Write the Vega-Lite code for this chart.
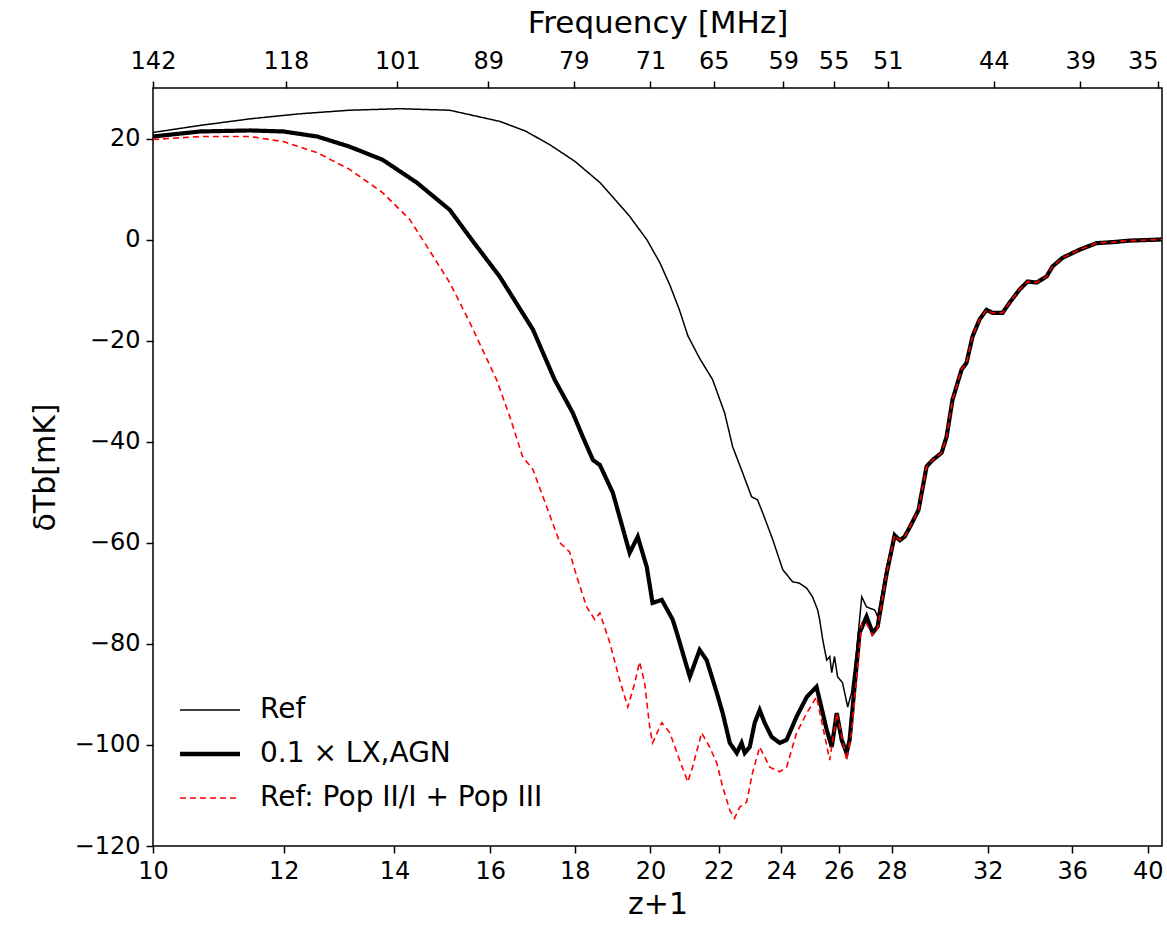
{
  "$schema": "https://vega.github.io/schema/vega-lite/v6.json",
  "width": 1009,
  "height": 758,
  "autosize": "none",
  "padding": {"left": 153, "top": 88, "right": 5, "bottom": 84},
  "background": "white",
  "config": {
    "font": "DejaVu Sans",
    "view": {"stroke": "black", "strokeWidth": 1.5},
    "axis": {"grid": false, "domain": false, "ticks": true, "tickColor": "black", "tickWidth": 1.5, "tickSize": 7, "labelColor": "black", "labelFontSize": 24, "labelFont": "DejaVu Sans", "labelFlush": false, "labelOverlap": false, "titleColor": "black", "titleFontSize": 30, "titleFontWeight": "normal", "titleFont": "DejaVu Sans"},
    "legend": {"labelFont": "DejaVu Sans", "labelColor": "black"}
  },
  "datasets": {
    "curves": [
      {"s": "Ref", "z1": 10.00, "dTb": 21.2}, {"s": "Ref", "z1": 10.68, "dTb": 22.6}, {"s": "Ref", "z1": 11.45, "dTb": 23.9}, {"s": "Ref", "z1": 12.27, "dTb": 24.9}, {"s": "Ref", "z1": 13.15, "dTb": 25.6}, {"s": "Ref", "z1": 14.10, "dTb": 25.9}, {"s": "Ref", "z1": 15.12, "dTb": 25.6}, {"s": "Ref", "z1": 16.21, "dTb": 23.4}, {"s": "Ref", "z1": 16.80, "dTb": 21.5}, {"s": "Ref", "z1": 17.38, "dTb": 18.8}, {"s": "Ref", "z1": 18.00, "dTb": 15.5}, {"s": "Ref", "z1": 18.64, "dTb": 11.3}, {"s": "Ref", "z1": 19.04, "dTb": 7.9}, {"s": "Ref", "z1": 19.43, "dTb": 4.6}, {"s": "Ref", "z1": 19.90, "dTb": 0.0},
      {"s": "Ref", "z1": 20.26, "dTb": -4.5}, {"s": "Ref", "z1": 20.55, "dTb": -9.0}, {"s": "Ref", "z1": 20.83, "dTb": -14.0}, {"s": "Ref", "z1": 21.07, "dTb": -19.0}, {"s": "Ref", "z1": 21.42, "dTb": -23.5}, {"s": "Ref", "z1": 21.81, "dTb": -27.7}, {"s": "Ref", "z1": 22.18, "dTb": -34.3}, {"s": "Ref", "z1": 22.43, "dTb": -41.0}, {"s": "Ref", "z1": 22.74, "dTb": -46.1}, {"s": "Ref", "z1": 23.03, "dTb": -50.9}, {"s": "Ref", "z1": 23.22, "dTb": -51.5}, {"s": "Ref", "z1": 23.39, "dTb": -54.1}, {"s": "Ref", "z1": 23.72, "dTb": -59.4}, {"s": "Ref", "z1": 24.05, "dTb": -65.3}, {"s": "Ref", "z1": 24.38, "dTb": -67.7}, {"s": "Ref", "z1": 24.62, "dTb": -68.0}, {"s": "Ref", "z1": 24.87, "dTb": -69.0}, {"s": "Ref", "z1": 25.07, "dTb": -70.7}, {"s": "Ref", "z1": 25.25, "dTb": -73.3}, {"s": "Ref", "z1": 25.32, "dTb": -75.2}, {"s": "Ref", "z1": 25.43, "dTb": -79.2}, {"s": "Ref", "z1": 25.57, "dTb": -83.2}, {"s": "Ref", "z1": 25.68, "dTb": -82.5}, {"s": "Ref", "z1": 25.75, "dTb": -85.7}, {"s": "Ref", "z1": 25.85, "dTb": -82.5}, {"s": "Ref", "z1": 25.96, "dTb": -86.5}, {"s": "Ref", "z1": 26.14, "dTb": -87.7}, {"s": "Ref", "z1": 26.33, "dTb": -92.5}, {"s": "Ref", "z1": 26.47, "dTb": -89.7}, {"s": "Ref", "z1": 26.66, "dTb": -81.2}, {"s": "Ref", "z1": 26.85, "dTb": -70.7}, {"s": "Ref", "z1": 27.03, "dTb": -72.7}, {"s": "Ref", "z1": 27.34, "dTb": -73.3}, {"s": "Ref", "z1": 27.45, "dTb": -74.6}, {"s": "Ref", "z1": 27.80, "dTb": -64.7}, {"s": "Ref", "z1": 28.11, "dTb": -58.5},
      {"s": "Ref", "z1": 28.31, "dTb": -59.5}, {"s": "Ref", "z1": 28.50, "dTb": -58.8}, {"s": "Ref", "z1": 28.70, "dTb": -57.0}, {"s": "Ref", "z1": 29.06, "dTb": -53.5}, {"s": "Ref", "z1": 29.39, "dTb": -44.9}, {"s": "Ref", "z1": 29.64, "dTb": -43.6}, {"s": "Ref", "z1": 30.01, "dTb": -42.2}, {"s": "Ref", "z1": 30.22, "dTb": -39.0}, {"s": "Ref", "z1": 30.47, "dTb": -31.7}, {"s": "Ref", "z1": 30.86, "dTb": -25.7}, {"s": "Ref", "z1": 31.07, "dTb": -24.4}, {"s": "Ref", "z1": 31.33, "dTb": -19.2}, {"s": "Ref", "z1": 31.64, "dTb": -15.8}, {"s": "Ref", "z1": 31.95, "dTb": -13.9}, {"s": "Ref", "z1": 32.22, "dTb": -14.5}, {"s": "Ref", "z1": 32.67, "dTb": -14.5}, {"s": "Ref", "z1": 32.99, "dTb": -12.5}, {"s": "Ref", "z1": 33.45, "dTb": -9.9}, {"s": "Ref", "z1": 33.83, "dTb": -8.3}, {"s": "Ref", "z1": 34.26, "dTb": -8.5}, {"s": "Ref", "z1": 34.74, "dTb": -7.3}, {"s": "Ref", "z1": 35.03, "dTb": -5.3}, {"s": "Ref", "z1": 35.52, "dTb": -3.6}, {"s": "Ref", "z1": 36.37, "dTb": -2.0}, {"s": "Ref", "z1": 37.24, "dTb": -0.7}, {"s": "Ref", "z1": 38.08, "dTb": -0.5}, {"s": "Ref", "z1": 38.99, "dTb": -0.2}, {"s": "Ref", "z1": 40.66, "dTb": 0.0}, {"s": "Ref", "z1": 40.8, "dTb": 0.1},

      {"s": "0.1 × LX,AGN", "z1": 10.00, "dTb": 20.4}, {"s": "0.1 × LX,AGN", "z1": 10.68, "dTb": 21.4}, {"s": "0.1 × LX,AGN", "z1": 11.45, "dTb": 21.6}, {"s": "0.1 × LX,AGN", "z1": 11.99, "dTb": 21.4}, {"s": "0.1 × LX,AGN", "z1": 12.57, "dTb": 20.4}, {"s": "0.1 × LX,AGN", "z1": 13.15, "dTb": 18.4}, {"s": "0.1 × LX,AGN", "z1": 13.77, "dTb": 15.8}, {"s": "0.1 × LX,AGN", "z1": 14.44, "dTb": 11.3}, {"s": "0.1 × LX,AGN", "z1": 15.12, "dTb": 5.9}, {"s": "0.1 × LX,AGN", "z1": 15.59, "dTb": 0.0}, {"s": "0.1 × LX,AGN", "z1": 16.21, "dTb": -7.3}, {"s": "0.1 × LX,AGN", "z1": 16.98, "dTb": -17.8}, {"s": "0.1 × LX,AGN", "z1": 17.50, "dTb": -27.7}, {"s": "0.1 × LX,AGN", "z1": 17.95, "dTb": -34.3}, {"s": "0.1 × LX,AGN", "z1": 18.20, "dTb": -39.0}, {"s": "0.1 × LX,AGN", "z1": 18.46, "dTb": -43.6}, {"s": "0.1 × LX,AGN", "z1": 18.64, "dTb": -44.6}, {"s": "0.1 × LX,AGN", "z1": 18.98, "dTb": -50.1}, {"s": "0.1 × LX,AGN", "z1": 19.43, "dTb": -62.0}, {"s": "0.1 × LX,AGN", "z1": 19.65, "dTb": -58.8}, {"s": "0.1 × LX,AGN", "z1": 19.90, "dTb": -64.8}, {"s": "0.1 × LX,AGN", "z1": 20.06, "dTb": -71.9}, {"s": "0.1 × LX,AGN", "z1": 20.32, "dTb": -71.3}, {"s": "0.1 × LX,AGN", "z1": 20.63, "dTb": -75.2}, {"s": "0.1 × LX,AGN", "z1": 20.75, "dTb": -77.8}, {"s": "0.1 × LX,AGN", "z1": 21.04, "dTb": -84.5}, {"s": "0.1 × LX,AGN", "z1": 21.13, "dTb": -86.5}, {"s": "0.1 × LX,AGN", "z1": 21.42, "dTb": -81.2}, {"s": "0.1 × LX,AGN", "z1": 21.63, "dTb": -83.2}, {"s": "0.1 × LX,AGN", "z1": 21.94, "dTb": -89.7}, {"s": "0.1 × LX,AGN", "z1": 22.12, "dTb": -93.7}, {"s": "0.1 × LX,AGN", "z1": 22.34, "dTb": -99.6}, {"s": "0.1 × LX,AGN", "z1": 22.56, "dTb": -101.6}, {"s": "0.1 × LX,AGN", "z1": 22.71, "dTb": -99.6}, {"s": "0.1 × LX,AGN", "z1": 22.81, "dTb": -101.6}, {"s": "0.1 × LX,AGN", "z1": 22.97, "dTb": -100.4}, {"s": "0.1 × LX,AGN", "z1": 23.13, "dTb": -95.6}, {"s": "0.1 × LX,AGN", "z1": 23.29, "dTb": -93.1}, {"s": "0.1 × LX,AGN", "z1": 23.45, "dTb": -95.6}, {"s": "0.1 × LX,AGN", "z1": 23.68, "dTb": -98.4}, {"s": "0.1 × LX,AGN", "z1": 23.95, "dTb": -99.6}, {"s": "0.1 × LX,AGN", "z1": 24.18, "dTb": -99.0}, {"s": "0.1 × LX,AGN", "z1": 24.52, "dTb": -94.4}, {"s": "0.1 × LX,AGN", "z1": 24.87, "dTb": -90.5}, {"s": "0.1 × LX,AGN", "z1": 25.21, "dTb": -88.5}, {"s": "0.1 × LX,AGN", "z1": 25.32, "dTb": -91.1}, {"s": "0.1 × LX,AGN", "z1": 25.57, "dTb": -97.0}, {"s": "0.1 × LX,AGN", "z1": 25.75, "dTb": -100.4}, {"s": "0.1 × LX,AGN", "z1": 25.93, "dTb": -93.7}, {"s": "0.1 × LX,AGN", "z1": 26.11, "dTb": -99.0}, {"s": "0.1 × LX,AGN", "z1": 26.29, "dTb": -101.6}, {"s": "0.1 × LX,AGN", "z1": 26.40, "dTb": -99.0}, {"s": "0.1 × LX,AGN", "z1": 26.77, "dTb": -77.8}, {"s": "0.1 × LX,AGN", "z1": 27.03, "dTb": -74.6}, {"s": "0.1 × LX,AGN", "z1": 27.26, "dTb": -77.8}, {"s": "0.1 × LX,AGN", "z1": 27.45, "dTb": -76.6}, {"s": "0.1 × LX,AGN", "z1": 27.80, "dTb": -66.0}, {"s": "0.1 × LX,AGN", "z1": 28.11, "dTb": -58.5},
      {"s": "0.1 × LX,AGN", "z1": 28.31, "dTb": -59.5}, {"s": "0.1 × LX,AGN", "z1": 28.50, "dTb": -58.8}, {"s": "0.1 × LX,AGN", "z1": 28.70, "dTb": -57.0}, {"s": "0.1 × LX,AGN", "z1": 29.06, "dTb": -53.5}, {"s": "0.1 × LX,AGN", "z1": 29.39, "dTb": -44.9}, {"s": "0.1 × LX,AGN", "z1": 29.64, "dTb": -43.6}, {"s": "0.1 × LX,AGN", "z1": 30.01, "dTb": -42.2}, {"s": "0.1 × LX,AGN", "z1": 30.22, "dTb": -39.0}, {"s": "0.1 × LX,AGN", "z1": 30.47, "dTb": -31.7}, {"s": "0.1 × LX,AGN", "z1": 30.86, "dTb": -25.7}, {"s": "0.1 × LX,AGN", "z1": 31.07, "dTb": -24.4}, {"s": "0.1 × LX,AGN", "z1": 31.33, "dTb": -19.2}, {"s": "0.1 × LX,AGN", "z1": 31.64, "dTb": -15.8}, {"s": "0.1 × LX,AGN", "z1": 31.95, "dTb": -13.9}, {"s": "0.1 × LX,AGN", "z1": 32.22, "dTb": -14.5}, {"s": "0.1 × LX,AGN", "z1": 32.67, "dTb": -14.5}, {"s": "0.1 × LX,AGN", "z1": 32.99, "dTb": -12.5}, {"s": "0.1 × LX,AGN", "z1": 33.45, "dTb": -9.9}, {"s": "0.1 × LX,AGN", "z1": 33.83, "dTb": -8.3}, {"s": "0.1 × LX,AGN", "z1": 34.26, "dTb": -8.5}, {"s": "0.1 × LX,AGN", "z1": 34.74, "dTb": -7.3}, {"s": "0.1 × LX,AGN", "z1": 35.03, "dTb": -5.3}, {"s": "0.1 × LX,AGN", "z1": 35.52, "dTb": -3.6}, {"s": "0.1 × LX,AGN", "z1": 36.37, "dTb": -2.0}, {"s": "0.1 × LX,AGN", "z1": 37.24, "dTb": -0.7}, {"s": "0.1 × LX,AGN", "z1": 38.08, "dTb": -0.5}, {"s": "0.1 × LX,AGN", "z1": 38.99, "dTb": -0.2}, {"s": "0.1 × LX,AGN", "z1": 40.66, "dTb": 0.0}, {"s": "0.1 × LX,AGN", "z1": 40.8, "dTb": 0.1},

      {"s": "Ref: Pop II/I + Pop III", "z1": 10.00, "dTb": 19.8}, {"s": "Ref: Pop II/I + Pop III", "z1": 10.68, "dTb": 20.4}, {"s": "Ref: Pop II/I + Pop III", "z1": 11.45, "dTb": 20.4}, {"s": "Ref: Pop II/I + Pop III", "z1": 11.99, "dTb": 19.4}, {"s": "Ref: Pop II/I + Pop III", "z1": 12.57, "dTb": 17.2}, {"s": "Ref: Pop II/I + Pop III", "z1": 13.15, "dTb": 13.9}, {"s": "Ref: Pop II/I + Pop III", "z1": 13.77, "dTb": 9.3}, {"s": "Ref: Pop II/I + Pop III", "z1": 14.30, "dTb": 4.0}, {"s": "Ref: Pop II/I + Pop III", "z1": 14.56, "dTb": 0.0}, {"s": "Ref: Pop II/I + Pop III", "z1": 15.12, "dTb": -8.5}, {"s": "Ref: Pop II/I + Pop III", "z1": 15.55, "dTb": -16.4}, {"s": "Ref: Pop II/I + Pop III", "z1": 16.14, "dTb": -27.7}, {"s": "Ref: Pop II/I + Pop III", "z1": 16.44, "dTb": -35.0}, {"s": "Ref: Pop II/I + Pop III", "z1": 16.74, "dTb": -43.0}, {"s": "Ref: Pop II/I + Pop III", "z1": 16.98, "dTb": -45.5}, {"s": "Ref: Pop II/I + Pop III", "z1": 17.31, "dTb": -52.9}, {"s": "Ref: Pop II/I + Pop III", "z1": 17.63, "dTb": -60.0}, {"s": "Ref: Pop II/I + Pop III", "z1": 17.87, "dTb": -61.8}, {"s": "Ref: Pop II/I + Pop III", "z1": 18.05, "dTb": -66.7}, {"s": "Ref: Pop II/I + Pop III", "z1": 18.30, "dTb": -72.7}, {"s": "Ref: Pop II/I + Pop III", "z1": 18.51, "dTb": -75.2}, {"s": "Ref: Pop II/I + Pop III", "z1": 18.64, "dTb": -73.9}, {"s": "Ref: Pop II/I + Pop III", "z1": 18.90, "dTb": -79.8}, {"s": "Ref: Pop II/I + Pop III", "z1": 19.16, "dTb": -87.1}, {"s": "Ref: Pop II/I + Pop III", "z1": 19.38, "dTb": -92.5}, {"s": "Ref: Pop II/I + Pop III", "z1": 19.57, "dTb": -87.7}, {"s": "Ref: Pop II/I + Pop III", "z1": 19.70, "dTb": -83.6}, {"s": "Ref: Pop II/I + Pop III", "z1": 19.84, "dTb": -87.7}, {"s": "Ref: Pop II/I + Pop III", "z1": 19.98, "dTb": -96.4}, {"s": "Ref: Pop II/I + Pop III", "z1": 20.06, "dTb": -99.6}, {"s": "Ref: Pop II/I + Pop III", "z1": 20.32, "dTb": -95.6}, {"s": "Ref: Pop II/I + Pop III", "z1": 20.55, "dTb": -97.6}, {"s": "Ref: Pop II/I + Pop III", "z1": 20.83, "dTb": -103.0}, {"s": "Ref: Pop II/I + Pop III", "z1": 21.07, "dTb": -107.3}, {"s": "Ref: Pop II/I + Pop III", "z1": 21.21, "dTb": -104.4}, {"s": "Ref: Pop II/I + Pop III", "z1": 21.48, "dTb": -97.6}, {"s": "Ref: Pop II/I + Pop III", "z1": 21.72, "dTb": -100.4}, {"s": "Ref: Pop II/I + Pop III", "z1": 21.94, "dTb": -103.6}, {"s": "Ref: Pop II/I + Pop III", "z1": 22.12, "dTb": -108.3}, {"s": "Ref: Pop II/I + Pop III", "z1": 22.34, "dTb": -112.9}, {"s": "Ref: Pop II/I + Pop III", "z1": 22.49, "dTb": -114.5}, {"s": "Ref: Pop II/I + Pop III", "z1": 22.65, "dTb": -112.3}, {"s": "Ref: Pop II/I + Pop III", "z1": 22.87, "dTb": -111.3}, {"s": "Ref: Pop II/I + Pop III", "z1": 23.06, "dTb": -105.5}, {"s": "Ref: Pop II/I + Pop III", "z1": 23.29, "dTb": -100.4}, {"s": "Ref: Pop II/I + Pop III", "z1": 23.62, "dTb": -104.4}, {"s": "Ref: Pop II/I + Pop III", "z1": 23.95, "dTb": -105.3}, {"s": "Ref: Pop II/I + Pop III", "z1": 24.18, "dTb": -104.4}, {"s": "Ref: Pop II/I + Pop III", "z1": 24.52, "dTb": -97.6}, {"s": "Ref: Pop II/I + Pop III", "z1": 24.87, "dTb": -93.7}, {"s": "Ref: Pop II/I + Pop III", "z1": 25.21, "dTb": -90.5}, {"s": "Ref: Pop II/I + Pop III", "z1": 25.43, "dTb": -96.4}, {"s": "Ref: Pop II/I + Pop III", "z1": 25.68, "dTb": -103.0}, {"s": "Ref: Pop II/I + Pop III", "z1": 25.93, "dTb": -93.7}, {"s": "Ref: Pop II/I + Pop III", "z1": 26.14, "dTb": -99.0}, {"s": "Ref: Pop II/I + Pop III", "z1": 26.29, "dTb": -103.0}, {"s": "Ref: Pop II/I + Pop III", "z1": 26.47, "dTb": -97.6}, {"s": "Ref: Pop II/I + Pop III", "z1": 26.85, "dTb": -75.8}, {"s": "Ref: Pop II/I + Pop III", "z1": 27.03, "dTb": -76.0}, {"s": "Ref: Pop II/I + Pop III", "z1": 27.26, "dTb": -78.3}, {"s": "Ref: Pop II/I + Pop III", "z1": 27.45, "dTb": -77.0}, {"s": "Ref: Pop II/I + Pop III", "z1": 27.80, "dTb": -66.0}, {"s": "Ref: Pop II/I + Pop III", "z1": 28.11, "dTb": -58.5},
      {"s": "Ref: Pop II/I + Pop III", "z1": 28.31, "dTb": -59.5}, {"s": "Ref: Pop II/I + Pop III", "z1": 28.50, "dTb": -58.8}, {"s": "Ref: Pop II/I + Pop III", "z1": 28.70, "dTb": -57.0}, {"s": "Ref: Pop II/I + Pop III", "z1": 29.06, "dTb": -53.5}, {"s": "Ref: Pop II/I + Pop III", "z1": 29.39, "dTb": -44.9}, {"s": "Ref: Pop II/I + Pop III", "z1": 29.64, "dTb": -43.6}, {"s": "Ref: Pop II/I + Pop III", "z1": 30.01, "dTb": -42.2}, {"s": "Ref: Pop II/I + Pop III", "z1": 30.22, "dTb": -39.0}, {"s": "Ref: Pop II/I + Pop III", "z1": 30.47, "dTb": -31.7}, {"s": "Ref: Pop II/I + Pop III", "z1": 30.86, "dTb": -25.7}, {"s": "Ref: Pop II/I + Pop III", "z1": 31.07, "dTb": -24.4}, {"s": "Ref: Pop II/I + Pop III", "z1": 31.33, "dTb": -19.2}, {"s": "Ref: Pop II/I + Pop III", "z1": 31.64, "dTb": -15.8}, {"s": "Ref: Pop II/I + Pop III", "z1": 31.95, "dTb": -13.9}, {"s": "Ref: Pop II/I + Pop III", "z1": 32.22, "dTb": -14.5}, {"s": "Ref: Pop II/I + Pop III", "z1": 32.67, "dTb": -14.5}, {"s": "Ref: Pop II/I + Pop III", "z1": 32.99, "dTb": -12.5}, {"s": "Ref: Pop II/I + Pop III", "z1": 33.45, "dTb": -9.9}, {"s": "Ref: Pop II/I + Pop III", "z1": 33.83, "dTb": -8.3}, {"s": "Ref: Pop II/I + Pop III", "z1": 34.26, "dTb": -8.5}, {"s": "Ref: Pop II/I + Pop III", "z1": 34.74, "dTb": -7.3}, {"s": "Ref: Pop II/I + Pop III", "z1": 35.03, "dTb": -5.3}, {"s": "Ref: Pop II/I + Pop III", "z1": 35.52, "dTb": -3.6}, {"s": "Ref: Pop II/I + Pop III", "z1": 36.37, "dTb": -2.0}, {"s": "Ref: Pop II/I + Pop III", "z1": 37.24, "dTb": -0.7}, {"s": "Ref: Pop II/I + Pop III", "z1": 38.08, "dTb": -0.5}, {"s": "Ref: Pop II/I + Pop III", "z1": 38.99, "dTb": -0.2}, {"s": "Ref: Pop II/I + Pop III", "z1": 40.66, "dTb": 0.0}, {"s": "Ref: Pop II/I + Pop III", "z1": 40.8, "dTb": 0.1}
    ],
    "topticks": [{"z1": 20}]
  },
  "layer": [
    {
      "mark": {"type": "rule", "color": "black", "strokeWidth": 3.5, "strokeDash": [3.5, 7.5]},
      "encoding": {"y": {"datum": 0, "type": "quantitative", "scale": {"domain": [-120, 30]}}}
    },
    {
      "data": {"name": "curves"},
      "transform": [{"filter": "datum.s === 'Ref'"}],
      "mark": {"type": "line", "strokeWidth": 1.5},
      "encoding": {
        "x": {"field": "z1", "type": "quantitative", "scale": {"type": "log", "domain": [10, 40.8], "nice": false, "zero": false},
          "axis": {"orient": "bottom", "values": [10, 12, 14, 16, 18, 20, 22, 24, 26, 28, 32, 36, 40], "format": "d", "title": "z+1", "labelPadding": 6, "titlePadding": 6}},
        "y": {"field": "dTb", "type": "quantitative", "scale": {"domain": [-120, 30], "nice": false, "zero": false},
          "axis": {"values": [-120, -100, -80, -60, -40, -20, 0, 20], "title": "δTb[mK]", "labelPadding": 6, "titlePadding": 14}},
        "color": {"field": "s", "type": "nominal", "scale": {"domain": ["Ref", "0.1 × LX,AGN", "Ref: Pop II/I + Pop III"], "range": ["black", "black", "red"]},
          "legend": {"title": null, "orient": "none", "legendX": 43, "legendY": 608, "symbolType": "stroke", "symbolSize": 3600, "labelFontSize": 28, "labelOffset": 36, "labelLimit": 0, "rowPadding": 16, "padding": 0,
            "encode": {"symbols": {"update": {"strokeWidth": {"signal": "datum.value === '0.1 × LX,AGN' ? 4.3 : 1.6"}}}}}},
        "strokeDash": {"field": "s", "type": "nominal", "scale": {"domain": ["Ref", "0.1 × LX,AGN", "Ref: Pop II/I + Pop III"], "range": [[1, 0], [1, 0], [6, 4]]}}
      }
    },
    {
      "data": {"name": "curves"},
      "transform": [{"filter": "datum.s === '0.1 × LX,AGN'"}],
      "mark": {"type": "line", "strokeWidth": 4.2},
      "encoding": {
        "x": {"field": "z1", "type": "quantitative", "axis": null},
        "y": {"field": "dTb", "type": "quantitative"},
        "color": {"field": "s", "type": "nominal"},
        "strokeDash": {"field": "s", "type": "nominal"}
      }
    },
    {
      "data": {"name": "curves"},
      "transform": [{"filter": "datum.s === 'Ref: Pop II/I + Pop III'"}],
      "mark": {"type": "line", "strokeWidth": 1.6},
      "encoding": {
        "x": {"field": "z1", "type": "quantitative", "axis": null},
        "y": {"field": "dTb", "type": "quantitative"},
        "color": {"field": "s", "type": "nominal"},
        "strokeDash": {"field": "s", "type": "nominal"}
      }
    },
    {
      "data": {"name": "topticks"},
      "mark": {"type": "point", "opacity": 0},
      "encoding": {
        "x": {"field": "z1", "type": "quantitative",
          "axis": {"orient": "top", "values": [10, 12.0339, 14.0594, 15.9551, 17.9747, 20, 21.8462, 24.0678, 25.8182, 27.8431, 32.2727, 36.4103, 40.5714], "labelExpr": "format(1420 / datum.value, '.0f')",
            "labelAlign": {"condition": {"test": "datum.value > 40", "value": "right"}, "value": "center"},
            "labelDx": {"condition": {"test": "datum.value > 40", "value": 7}, "value": 0},
            "title": "Frequency [MHz]", "titleFontSize": 31, "labelPadding": 8, "titlePadding": 10}}
      }
    }
  ],
  "resolve": {"axis": {"x": "independent"}}
}
